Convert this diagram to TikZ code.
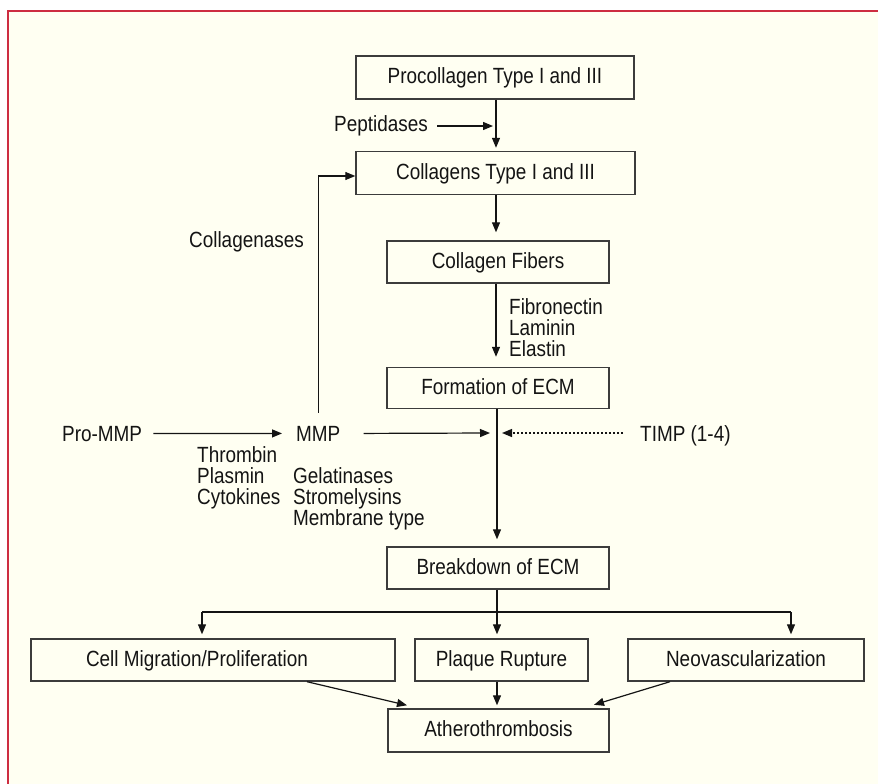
\documentclass[tikz,border=0pt]{standalone}
\usepackage{fontspec}
\setmainfont[FakeStretch=0.86]{Liberation Sans}
\usetikzlibrary{arrows.meta}
\definecolor{cream}{RGB}{255,255,242}
\definecolor{framecol}{RGB}{205,45,65}
\definecolor{ink}{RGB}{20,20,20}
\definecolor{boxline}{RGB}{60,60,60}
\begin{document}
\begin{tikzpicture}[x=1pt,y=-1pt,
  every node/.style={font=\fontsize{22}{21}\selectfont, text=ink, inner sep=0pt},
  box/.style={draw=boxline, line width=1.4pt, minimum height=42pt, anchor=center, text height=16pt, text depth=4pt},
  lbl/.style={anchor=base west},
  lbr/.style={anchor=base east},
  arr/.style={draw=ink, line width=1.2pt, -{Triangle[length=10pt,width=8pt]}},
  ln/.style={draw=ink, line width=1.2pt},
  dotarr/.style={draw=ink, line width=1.2pt, dash pattern=on 2pt off 2pt, -{Triangle[length=10pt,width=8pt]}}]

\useasboundingbox (0,0) rectangle (878,784);
\fill[white] (0,0) rectangle (878,784);
\fill[cream] (8,11) rectangle (878,784);
\draw[framecol, line width=1.5pt] (8,784) -- (8,11) -- (878,11);

% boxes
\node[box, minimum width=278pt, minimum height=43pt] (proc) at (495,77.5) {Procollagen Type I and III};
\node[box, minimum width=279pt, minimum height=43pt] (coll) at (495.5,173) {Collagens Type I and III};
\node[box, minimum width=222pt] (fib) at (498,262) {Collagen Fibers};
\node[box, minimum width=222pt, minimum height=41pt] (form) at (498,388) {Formation of ECM};
\node[box, minimum width=222pt] (brk) at (498,568) {Breakdown of ECM};
\node[box, minimum width=364pt] (cell) at (213,660) {Cell Migration/Proliferation\hspace*{32pt}};
\node[box, minimum width=173pt] (plq) at (501.5,660) {Plaque Rupture};
\node[box, minimum width=236pt] (neo) at (746,660) {Neovascularization};
\node[box, minimum width=221pt, minimum height=43pt] (ath) at (498.5,730.5) {Atherothrombosis};

% labels
\node[lbr] (pep) at (428,131) {Peptidases};
\node[lbr] (cgn) at (304,247) {Collagenases};
\node[lbl] (fln) at (509,314) {\vtop{\hbox{Fibronectin}\hbox{Laminin}\hbox{Elastin}}};
\node[lbl] (pro) at (62,441) {Pro-MMP};
\node[lbl] (mmp) at (296,441) {MMP};
\node[lbl] (tpc) at (197,462) {\vtop{\hbox{Thrombin}\hbox{Plasmin}\hbox{Cytokines}}};
\node[lbl] (gsm) at (293,483) {\vtop{\hbox{Gelatinases}\hbox{Stromelysins}\hbox{Membrane type}}};
\node[lbl] (timp) at (640,441) {TIMP (1-4)};

% coordinates
\coordinate (pj) at (496,126);
\coordinate (j) at (497,433);
\coordinate (bl) at (202,612);
\coordinate (bm) at (497,612);
\coordinate (br) at (791,612);

% connectors
\draw[arr, shorten >=3pt] (proc.south -| pj) -- (coll.north -| pj);
\draw[arr] ([xshift=9pt]pep.east |- pj) -- ([xshift=-3pt]pj);
\draw[arr] ([yshift=13pt]mmp.north) |- ([yshift=-3pt]coll.west);
\draw[arr, shorten >=8pt] (coll.south -| pj) -- (fib.north -| pj);
\draw[arr, shorten >=10pt] (fib.south -| pj) -- (form.north -| pj);
\draw[arr, shorten >=7pt] (form.south -| j) -- (brk.north -| j);
\draw[arr] ([xshift=11pt]pro.east) -- ([xshift=-14pt]mmp.west);
\draw[arr] ([xshift=23pt]mmp.east) -- ([xshift=-7pt]j);
\draw[dotarr] ([xshift=-17pt]timp.west |- j) -- ([xshift=5pt]j);
\draw[ln] (brk.south -| bm) -- (bm);
\draw[ln] (bl) -- (br);
\draw[arr, shorten >=4pt] (bl) -- (bl |- cell.north);
\draw[arr, shorten >=4pt] (bm) -- (bm |- plq.north);
\draw[arr, shorten >=4pt] (br) -- (br |- neo.north);
\draw[arr] ([xshift=94pt]cell.south) -- ([xshift=-91.5pt,yshift=3pt]ath.north);
\draw[arr, shorten >=3pt] (plq.south -| bm) -- (ath.north -| bm);
\draw[arr] ([xshift=-76pt]neo.south) -- ([xshift=95.5pt,yshift=3.5pt]ath.north);
\end{tikzpicture}
\end{document}
